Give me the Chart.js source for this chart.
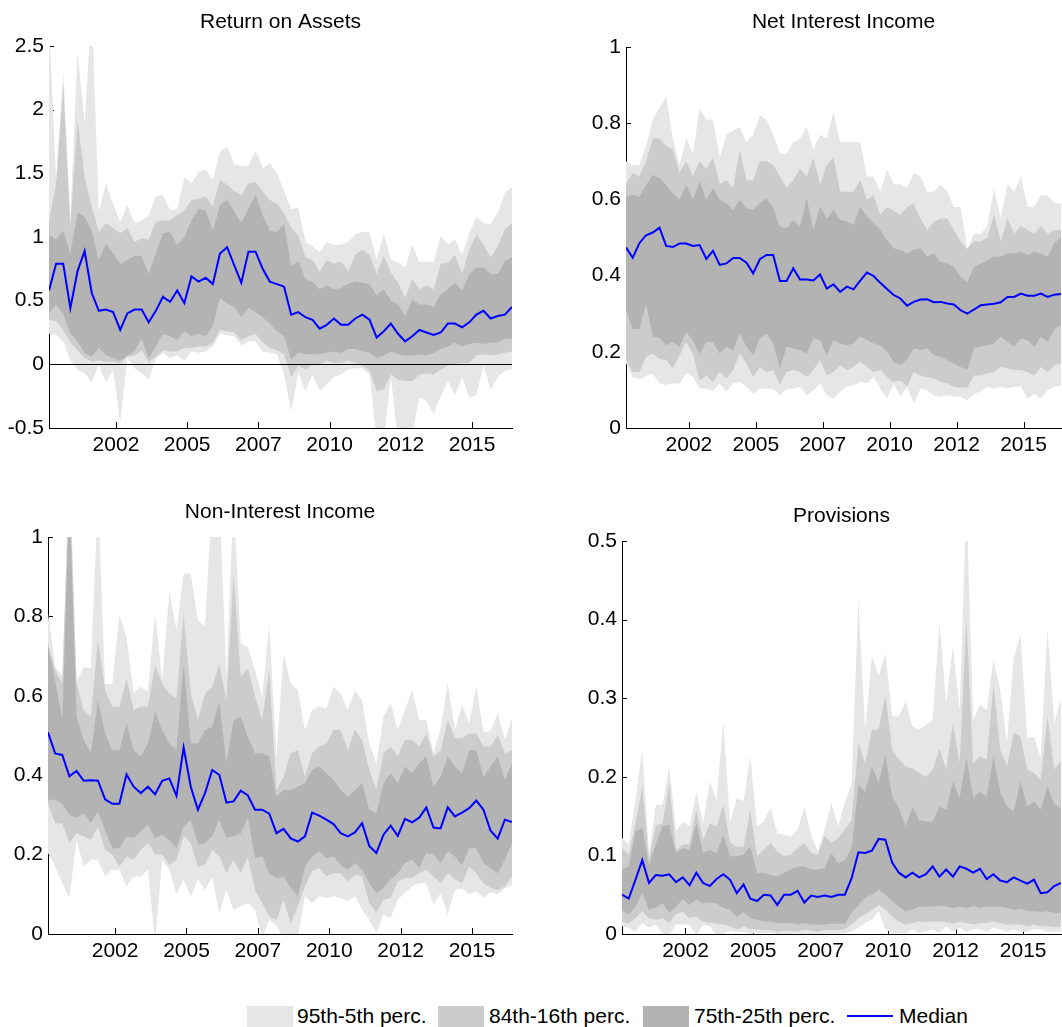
<!DOCTYPE html>
<html>
<head>
<meta charset="utf-8">
<script src="https://cdn.jsdelivr.net/npm/chart.js@4.4.1/dist/chart.umd.min.js"></script>
<style>
  html, body { margin: 0; padding: 0; background: #fff; overflow: hidden; width: 1062px; height: 1027px; }
  canvas { position: absolute; }
  .legend { position: absolute; top: 1004px; left: 0; font: 21px "Liberation Sans", Arial, sans-serif; color: #000; }
  .swatch { position: absolute; top: 2px; width: 46px; height: 24px; }
  .label { position: absolute; top: 0; line-height: 24px; white-space: nowrap; }
  .medline { position: absolute; top: 11px; width: 46px; height: 2px; background: #0000ff; }
</style>
</head>
<body>
<canvas id="roa" width="540" height="490" style="left:0;top:0"></canvas>
<canvas id="nii" width="540" height="490" style="left:560px;top:0"></canvas>
<canvas id="nonii" width="540" height="490" style="left:0;top:490px"></canvas>
<canvas id="prov" width="540" height="490" style="left:560px;top:490px"></canvas>

<div class="legend">
  <div class="swatch" style="left:247px;background:#e6e6e6"></div>
  <div class="label" style="left:297px">95th-5th perc.</div>
  <div class="swatch" style="left:438px;background:#cccccc"></div>
  <div class="label" style="left:489px">84th-16th perc.</div>
  <div class="swatch" style="left:643px;background:#b3b3b3"></div>
  <div class="label" style="left:694px">75th-25th perc.</div>
  <div class="medline" style="left:847px"></div>
  <div class="label" style="left:899px">Median</div>
</div>

<script>
// quarterly observations, 2000Q1 .. 2016Q2 (66 quarters); ticks every 10 quarters
const tickPos = [9.4, 19.4, 29.4, 39.4, 49.4, 59.4];
const tickLabels = ['2002', '2005', '2007', '2010', '2012', '2015'];

// Return on Assets
const roaMedian = [0.58,0.79,0.79,0.44,0.73,0.89,0.56,0.42,0.43,0.41, 0.27,0.40,0.43,0.43,0.33,0.42,0.53,0.49,0.58,0.48,
  0.69,0.65,0.68,0.63,0.87,0.92,0.78,0.64,0.885,0.885, 0.75,0.65,0.63,0.61,0.39,0.41,0.37,0.35,0.28,0.31,
  0.36,0.31,0.31,0.36,0.39,0.35,0.21,0.26,0.32,0.24, 0.18,0.22,0.27,0.25,0.23,0.25,0.32,0.32,0.29,0.33, 0.39,0.42,0.36,0.38,0.39,0.45];
const roaP95 = [2.7,1.45,2.3,1.15,2.45,1.9,2.8,1.2,1.42,1.26, 1.12,1.25,1.11,1.13,1.17,1.32,1.33,1.21,1.22,1.47,
  1.42,1.51,1.53,1.45,1.67,1.71,1.57,1.56,1.56,1.68, 1.54,1.58,1.5,1.36,1.22,1.23,0.96,0.93,0.88,0.96,
  0.94,0.94,0.96,1.02,1.04,1.04,0.82,1.03,0.82,0.80, 0.76,0.94,0.80,0.81,0.80,1.01,0.94,0.98,0.86,1.03, 1.16,1.11,1.10,1.19,1.35,1.39];
const roaP84 = [1.12,1.42,2.19,1.08,1.92,1.47,1.24,1.04,1.11,1.07, 1.03,1.07,0.96,0.99,0.98,1.12,1.13,1.13,1.17,1.21,
  1.29,1.30,1.32,1.24,1.45,1.41,1.36,1.33,1.42,1.43, 1.36,1.29,1.26,1.19,1.07,1.01,0.84,0.82,0.73,0.82,
  0.79,0.81,0.73,0.86,0.90,0.86,0.71,0.85,0.72,0.64, 0.52,0.67,0.59,0.62,0.59,0.79,0.80,0.86,0.71,0.90, 1.02,0.94,0.84,0.93,1.06,1.11];
const roaP75 = [1.02,0.98,1.05,0.87,1.19,1.16,1.05,0.82,0.95,0.87, 0.79,0.82,0.85,0.85,0.71,0.87,1.03,1.04,0.94,1.00,
  1.13,1.22,1.21,1.05,1.25,1.29,1.20,1.11,1.22,1.33, 1.17,1.05,1.04,1.10,0.77,0.81,0.67,0.65,0.59,0.62,
  0.59,0.60,0.63,0.65,0.64,0.63,0.54,0.59,0.50,0.47, 0.38,0.51,0.47,0.47,0.45,0.55,0.59,0.64,0.58,0.71, 0.76,0.76,0.71,0.71,0.81,0.84];
const roaP25 = [0.40,0.47,0.40,0.24,0.18,0.09,0.06,0.13,0.07,0.05, 0.03,0.07,0.10,0.20,0.05,0.14,0.24,0.22,0.19,0.26,
  0.22,0.24,0.22,0.30,0.52,0.48,0.45,0.37,0.44,0.41, 0.37,0.32,0.26,0.22,0.04,0.09,0.08,0.08,0.08,0.09,
  0.10,0.09,0.12,0.12,0.10,0.09,0.05,0.07,0.10,0.08, 0.07,0.07,0.08,0.07,0.09,0.12,0.14,0.17,0.14,0.16, 0.17,0.16,0.17,0.17,0.20,0.20];
const roaP16 = [0.35,0.34,0.27,0.17,0.11,0.05,0.02,0.03,0.02,0.02, 0.01,0.06,0.07,0.11,0.02,0.06,0.11,0.10,0.10,0.13,
  0.13,0.14,0.14,0.17,0.27,0.26,0.25,0.19,0.22,0.24, 0.17,0.13,0.11,0.08,-0.10,-0.01,-0.04,0.00,-0.01,0.03,
  0.01,0.01,0.03,0.01,-0.01,-0.05,-0.21,-0.20,-0.08,-0.12, -0.13,-0.13,-0.08,-0.07,-0.08,-0.04,-0.01,0.00,0.01,0.01, 0.07,0.08,0.07,0.08,0.09,0.10];
const roaP5 = [0.24,0.23,0.18,0.03,-0.04,-0.07,-0.14,-0.01,-0.14,-0.04, -0.46,0.05,-0.03,-0.07,-0.12,0.04,0.09,0.05,0.07,0.03,
  0.10,0.09,0.10,0.14,0.24,0.23,0.22,0.15,0.18,0.18, 0.10,0.09,0.08,-0.08,-0.37,-0.07,-0.21,-0.08,-0.21,-0.16,
  -0.10,-0.08,-0.04,-0.03,-0.03,-0.08,-0.6,-0.6,-0.10,-0.6, -0.6,-0.55,-0.26,-0.29,-0.39,-0.25,-0.13,-0.24,-0.10,-0.26, -0.24,-0.01,-0.20,-0.10,-0.05,-0.04];

// Net Interest Income
const niiMedian = [0.474,0.447,0.485,0.506,0.513,0.526,0.478,0.475,0.484,0.484, 0.478,0.48,0.444,0.465,0.428,0.432,0.446,0.446,0.434,0.406,
  0.443,0.454,0.454,0.386,0.386,0.419,0.39,0.39,0.387,0.403, 0.366,0.377,0.357,0.371,0.364,0.387,0.408,0.399,0.381,0.365,
  0.349,0.34,0.321,0.331,0.337,0.338,0.330,0.331,0.327,0.324, 0.309,0.300,0.311,0.322,0.324,0.326,0.330,0.344,0.344,0.353, 0.347,0.347,0.353,0.344,0.350,0.352];
const niiP95 = [0.70,0.69,0.69,0.74,0.81,0.84,0.87,0.76,0.69,0.76, 0.72,0.84,0.81,0.81,0.71,0.77,0.78,0.79,0.75,0.77,
  0.82,0.81,0.77,0.72,0.72,0.75,0.76,0.79,0.73,0.77, 0.76,0.83,0.75,0.75,0.75,0.75,0.66,0.66,0.62,0.68,
  0.64,0.64,0.63,0.67,0.66,0.62,0.62,0.64,0.62,0.58, 0.58,0.47,0.51,0.51,0.53,0.63,0.55,0.64,0.62,0.66, 0.58,0.58,0.61,0.61,0.59,0.59];
const niiP84 = [0.64,0.67,0.66,0.70,0.76,0.76,0.74,0.73,0.67,0.70, 0.66,0.70,0.68,0.71,0.64,0.65,0.63,0.73,0.65,0.65,
  0.70,0.70,0.69,0.66,0.63,0.65,0.68,0.66,0.71,0.64, 0.69,0.71,0.62,0.62,0.62,0.65,0.60,0.61,0.56,0.58,
  0.57,0.56,0.58,0.59,0.55,0.52,0.54,0.55,0.55,0.52, 0.49,0.47,0.49,0.49,0.50,0.56,0.49,0.55,0.51,0.53, 0.52,0.51,0.53,0.51,0.52,0.52];
const niiP75 = [0.607,0.612,0.607,0.638,0.664,0.656,0.638,0.616,0.599,0.638, 0.599,0.647,0.599,0.629,0.599,0.59,0.572,0.599,0.577,0.572,
  0.59,0.603,0.577,0.528,0.524,0.546,0.528,0.603,0.52,0.581, 0.55,0.572,0.546,0.542,0.533,0.581,0.555,0.537,0.52,0.493,
  0.472,0.467,0.458,0.467,0.472,0.45,0.458,0.436,0.432,0.423, 0.397,0.384,0.423,0.432,0.441,0.45,0.45,0.458,0.458,0.463, 0.454,0.463,0.458,0.45,0.485,0.50];
const niiP25 = [0.31,0.26,0.26,0.327,0.24,0.236,0.217,0.226,0.213,0.252, 0.23,0.195,0.226,0.226,0.195,0.213,0.204,0.248,0.213,0.191,
  0.235,0.248,0.222,0.156,0.213,0.209,0.204,0.195,0.235,0.231, 0.191,0.231,0.222,0.217,0.222,0.24,0.231,0.222,0.217,0.20,
  0.174,0.165,0.182,0.209,0.204,0.209,0.191,0.187,0.178,0.169, 0.160,0.152,0.209,0.213,0.217,0.222,0.24,0.226,0.213,0.235, 0.231,0.213,0.24,0.226,0.26,0.27];
const niiP16 = [0.18,0.147,0.147,0.187,0.195,0.182,0.178,0.156,0.191,0.226, 0.195,0.125,0.138,0.121,0.147,0.13,0.152,0.195,0.169,0.134,
  0.16,0.147,0.152,0.112,0.147,0.152,0.147,0.134,0.152,0.178, 0.138,0.147,0.165,0.152,0.160,0.174,0.160,0.147,0.152,0.134,
  0.121,0.125,0.108,0.147,0.138,0.134,0.130,0.121,0.117,0.108, 0.106,0.106,0.138,0.138,0.143,0.147,0.160,0.156,0.152,0.152, 0.147,0.138,0.160,0.147,0.165,0.17];
const niiP5 = [0.17,0.134,0.128,0.136,0.143,0.117,0.113,0.117,0.117,0.143, 0.134,0.103,0.103,0.097,0.117,0.095,0.117,0.121,0.108,0.09,
  0.103,0.103,0.103,0.086,0.103,0.103,0.108,0.086,0.099,0.117, 0.086,0.077,0.095,0.108,0.112,0.121,0.117,0.134,0.103,0.077,
  0.117,0.082,0.108,0.064,0.103,0.099,0.086,0.082,0.086,0.082, 0.082,0.073,0.090,0.095,0.108,0.103,0.108,0.103,0.108,0.108, 0.077,0.090,0.077,0.099,0.108,0.11];

// Non-Interest Income
const noniiMedian = [0.508,0.455,0.451,0.397,0.411,0.386,0.387,0.386,0.339,0.328, 0.328,0.402,0.371,0.355,0.371,0.352,0.386,0.392,0.348,0.47,
  0.371,0.313,0.355,0.413,0.401,0.331,0.334,0.361,0.349,0.313, 0.313,0.303,0.254,0.265,0.241,0.233,0.246,0.306,0.298,0.288,
  0.277,0.254,0.246,0.256,0.279,0.222,0.204,0.25,0.273,0.247, 0.29,0.281,0.293,0.319,0.268,0.266,0.319,0.296,0.306,0.317, 0.336,0.313,0.26,0.24,0.288,0.282];
const noniiP95 = [0.807,0.673,0.65,1.2,0.635,0.673,0.67,1.1,0.63,0.63, 0.803,0.748,0.606,0.623,0.61,0.807,0.64,0.862,0.765,0.908,
  0.908,0.79,0.774,1.1,1.1,0.648,1.1,0.732,0.723,0.665, 0.598,0.778,0.447,0.707,0.631,0.614,0.514,0.564,0.573,0.568,
  0.623,0.606,0.564,0.614,0.589,0.48,0.43,0.547,0.581,0.514, 0.564,0.614,0.539,0.539,0.455,0.518,0.631,0.514,0.577,0.531, 0.623,0.51,0.51,0.556,0.489,0.543];
const noniiP84 = [0.732,0.665,0.631,1.15,0.631,0.564,0.547,0.74,0.614,0.573, 0.573,0.644,0.564,0.573,0.573,0.677,0.631,0.606,0.594,0.807,
  0.606,0.539,0.606,0.623,0.681,0.589,0.908,0.648,0.669,0.598, 0.539,0.665,0.363,0.396,0.455,0.463,0.396,0.455,0.472,0.48,
  0.514,0.514,0.463,0.514,0.489,0.413,0.363,0.455,0.472,0.447, 0.489,0.489,0.472,0.505,0.447,0.463,0.539,0.493,0.493,0.505, 0.505,0.472,0.472,0.501,0.455,0.463];
const noniiP75 = [0.728,0.64,0.539,1.1,0.547,0.489,0.455,0.589,0.505,0.463, 0.463,0.531,0.463,0.447,0.48,0.56,0.514,0.48,0.463,0.681,
  0.48,0.48,0.514,0.522,0.585,0.43,0.539,0.547,0.497,0.455, 0.455,0.447,0.346,0.363,0.363,0.371,0.38,0.413,0.422,0.405,
  0.388,0.363,0.346,0.363,0.38,0.313,0.304,0.38,0.405,0.38, 0.422,0.405,0.43,0.447,0.371,0.396,0.447,0.422,0.405,0.463, 0.463,0.396,0.422,0.447,0.388,0.43];
const noniiP25 = [0.338,0.338,0.329,0.30,0.292,0.304,0.279,0.308,0.262,0.216, 0.216,0.246,0.242,0.258,0.275,0.242,0.25,0.237,0.216,0.271,
  0.288,0.225,0.229,0.246,0.288,0.242,0.246,0.254,0.292,0.191, 0.195,0.153,0.141,0.145,0.116,0.095,0.17,0.195,0.208,0.191,
  0.195,0.174,0.162,0.179,0.162,0.128,0.103,0.116,0.137,0.153, 0.179,0.187,0.166,0.204,0.20,0.179,0.208,0.195,0.174,0.216, 0.216,0.179,0.166,0.153,0.187,0.229];
const noniiP16 = [0.329,0.279,0.279,0.229,0.254,0.246,0.237,0.271,0.212,0.20, 0.17,0.195,0.187,0.212,0.229,0.20,0.20,0.174,0.187,0.246,
  0.229,0.17,0.174,0.212,0.195,0.153,0.187,0.153,0.195,0.111, 0.078,0.044,0.036,0.086,0.028,0.07,0.12,0.158,0.166,0.145,
  0.153,0.153,0.132,0.149,0.145,0.078,0.053,0.086,0.091,0.132, 0.141,0.141,0.153,0.162,0.145,0.128,0.153,0.137,0.128,0.17, 0.153,0.128,0.116,0.111,0.12,0.145];
const noniiP5 = [0.204,0.17,0.128,0.091,0.237,0.17,0.187,0.187,0.145,0.162, 0.162,0.12,0.145,0.145,0.162,-0.02,0.187,0.162,0.099,0.137,
  0.095,0.137,0.111,0.145,0.053,0.111,0.061,0.07,0.078,0.061, -0.01,0.036,0.02,-0.01,-0.01,-0.01,0.095,0.078,0.095,0.091,
  0.095,0.091,0.082,0.095,0.061,0.036,0.003,0.049,0.04,0.087, 0.103,0.12,0.128,0.128,0.074,0.103,0.049,0.111,0.115,0.10, 0.107,0.091,0.105,0.10,0.115,0.124];

// Provisions
const provMedian = [0.05,0.045,0.069,0.094,0.065,0.075,0.074,0.076,0.066,0.072, 0.062,0.078,0.065,0.061,0.07,0.076,0.069,0.052,0.063,0.045,
  0.042,0.05,0.049,0.037,0.05,0.05,0.055,0.04,0.049,0.047, 0.049,0.047,0.05,0.05,0.071,0.104,0.103,0.106,0.121,0.12,
  0.091,0.078,0.072,0.078,0.072,0.076,0.086,0.073,0.082,0.073, 0.086,0.083,0.078,0.083,0.07,0.076,0.068,0.066,0.072,0.068, 0.064,0.069,0.052,0.053,0.061,0.065];
const provP95 = [0.122,0.114,0.171,0.234,0.103,0.164,0.164,0.213,0.131,0.143, 0.137,0.181,0.141,0.194,0.171,0.27,0.141,0.173,0.169,0.226,
  0.137,0.143,0.16,0.128,0.126,0.124,0.133,0.162,0.126,0.105, 0.133,0.167,0.137,0.167,0.192,0.427,0.26,0.353,0.328,0.357,
  0.277,0.277,0.296,0.264,0.26,0.266,0.272,0.397,0.294,0.366, 0.285,0.55,0.272,0.292,0.285,0.349,0.311,0.243,0.351,0.381, 0.249,0.251,0.224,0.389,0.268,0.30];
const provP84 = [0.109,0.101,0.141,0.188,0.094,0.137,0.141,0.192,0.107,0.114, 0.114,0.158,0.12,0.141,0.137,0.164,0.116,0.111,0.111,0.158,
  0.099,0.107,0.116,0.105,0.099,0.101,0.109,0.116,0.103,0.101, 0.125,0.116,0.122,0.133,0.145,0.243,0.217,0.26,0.26,0.304,
  0.234,0.222,0.213,0.211,0.205,0.20,0.209,0.236,0.209,0.268, 0.217,0.402,0.217,0.226,0.222,0.319,0.234,0.213,0.256,0.251, 0.209,0.205,0.196,0.277,0.209,0.22];
const provP75 = [0.082,0.086,0.131,0.135,0.088,0.114,0.137,0.139,0.103,0.109, 0.107,0.141,0.103,0.107,0.103,0.126,0.099,0.099,0.101,0.111,
  0.078,0.078,0.075,0.073,0.078,0.082,0.086,0.086,0.082,0.082, 0.084,0.103,0.09,0.094,0.109,0.19,0.181,0.213,0.192,0.228,
  0.175,0.16,0.137,0.162,0.145,0.143,0.143,0.162,0.158,0.194, 0.173,0.224,0.173,0.181,0.175,0.226,0.181,0.162,0.156,0.194, 0.162,0.169,0.158,0.188,0.165,0.16];
const provP25 = [0.03,0.025,0.035,0.052,0.031,0.033,0.039,0.027,0.035,0.044, 0.037,0.044,0.039,0.04,0.039,0.033,0.031,0.022,0.028,0.02,
  0.018,0.016,0.016,0.014,0.014,0.014,0.012,0.014,0.012,0.012, 0.012,0.013,0.013,0.013,0.027,0.037,0.046,0.05,0.056,0.05,
  0.042,0.035,0.029,0.031,0.035,0.035,0.035,0.036,0.035,0.033, 0.035,0.033,0.036,0.033,0.035,0.035,0.035,0.033,0.031,0.032, 0.029,0.029,0.028,0.029,0.027,0.027];
const provP16 = [0.016,0.014,0.02,0.029,0.02,0.018,0.02,0.014,0.025,0.028, 0.02,0.022,0.016,0.014,0.013,0.012,0.01,0.006,0.01,0.006,
  0.006,0.005,0.005,0.003,0.004,0.004,0.003,0.005,0.004,0.003, 0.005,0.005,0.005,0.006,0.012,0.02,0.025,0.03,0.037,0.031,
  0.022,0.016,0.012,0.014,0.016,0.015,0.016,0.016,0.015,0.013, 0.016,0.014,0.012,0.014,0.014,0.016,0.014,0.012,0.012,0.012, 0.01,0.012,0.01,0.01,0.009,0.009];
const provP5 = [0.01,0.008,0.003,0.014,0.008,0.012,0.001,-0.002,0.012,0.012, 0.012,-0.002,0.012,0.01,-0.002,0.0,0.004,0.003,0.003,0.0,
  0.002,0.001,0.001,0.0,0.0,0.0,0.001,-0.002,0.0,0.0, 0.0,0.0,0.0,0.001,0.003,0.008,0.014,0.018,0.029,0.006,
  0.001,0.001,0.001,0.006,0.001,0.003,0.006,0.001,0.01,0.003, 0.008,0.003,0.006,0.006,0.003,0.008,0.006,0.003,0.006,0.003, 0.003,0.006,0.006,0.003,0.003,0.003];

Chart.defaults.font.family = '"Liberation Sans", Arial, Helvetica, sans-serif';
Chart.defaults.font.size = 21;
Chart.defaults.color = '#000';

// little inward tick marks (under the bands, like the original) and an optional zero line
const axisMarks = {
    id: 'axisMarks',
    beforeDatasetsDraw(chart) {
        const { ctx, chartArea: a, scales: { x, y } } = chart;
        ctx.save();
        ctx.strokeStyle = '#000';
        ctx.lineWidth = 1;
        ctx.beginPath();
        x.ticks.forEach((t) => {
            const px = Math.round(x.getPixelForValue(t.value)) + 0.5;
            ctx.moveTo(px, a.bottom);
            ctx.lineTo(px, a.bottom - 6);
        });
        y.ticks.forEach((t) => {
            const py = Math.round(y.getPixelForValue(t.value)) + 0.5;
            ctx.moveTo(a.left, py);
            ctx.lineTo(a.left + 5, py);
        });
        ctx.stroke();
        ctx.restore();
    },
    afterDatasetsDraw(chart, args, opts) {
        if (!opts.zeroLine) {
            return;
        }
        const { ctx, chartArea: a, scales: { y } } = chart;
        const py = Math.round(y.getPixelForValue(0)) + 0.5;
        ctx.save();
        ctx.strokeStyle = '#000';
        ctx.lineWidth = 1;
        ctx.beginPath();
        ctx.moveTo(a.left, py);
        ctx.lineTo(a.right, py);
        ctx.stroke();
        ctx.restore();
    },
};

function points(values) {
    return values.map((v, i) => ({ x: i, y: v }));
}

function band(values, color, order, fillToNext) {
    return {
        data: points(values),
        borderWidth: 0,
        backgroundColor: color,
        fill: fillToNext ? '+1' : false,
        order,
    };
}

function makePanel(id, p) {
    new Chart(document.getElementById(id), {
        type: 'line',
        data: {
            datasets: [
                { label: 'Median', data: points(p.median), borderColor: '#0000ff', borderWidth: 2, fill: false, order: 0 },
                band(p.p75, '#b3b3b3', 1, true),
                band(p.p25, '#b3b3b3', 1, false),
                band(p.p84, '#cccccc', 2, true),
                band(p.p16, '#cccccc', 2, false),
                band(p.p95, '#e6e6e6', 3, true),
                band(p.p5, '#e6e6e6', 3, false),
            ],
        },
        options: {
            responsive: false,
            animation: false,
            events: [],
            layout: { padding: { left: 0, right: p.padRight, top: 0, bottom: 0 } },
            elements: { point: { radius: 0 }, line: { tension: 0 } },
            plugins: {
                legend: { display: false },
                tooltip: { enabled: false },
                title: {
                    display: true,
                    text: p.title,
                    fullSize: false,
                    font: { size: 21, weight: 'normal' },
                    padding: { top: p.titleTop, bottom: p.titleBottom },
                },
                axisMarks: { zeroLine: !!p.zeroLine },
            },
            scales: {
                x: {
                    type: 'linear',
                    min: 0,
                    max: 65,
                    afterBuildTicks: (s) => { s.ticks = tickPos.map((v) => ({ value: v })); },
                    afterFit: (s) => { s.height = p.xHeight; },
                    ticks: { callback: (v, i) => tickLabels[i], autoSkip: false, maxRotation: 0, padding: 5 },
                    grid: { display: false, drawTicks: false },
                    border: { display: true, color: '#000', width: 1 },
                },
                y: {
                    min: p.yMin,
                    max: p.yMax,
                    afterFit: (s) => { s.width = p.yWidth; },
                    ticks: {
                        stepSize: p.yStep,
                        padding: 5,
                        callback: (v) => String(Math.round(v * 100) / 100),
                    },
                    grid: { display: false, drawTicks: false },
                    border: { display: true, color: '#000', width: 1 },
                },
            },
        },
        plugins: [axisMarks],
    });
}

makePanel('roa', {
    title: 'Return on Assets', median: roaMedian, p95: roaP95, p84: roaP84, p75: roaP75, p25: roaP25, p16: roaP16, p5: roaP5,
    yMin: -0.5, yMax: 2.5, yStep: 0.5, yWidth: 49, xHeight: 62, padRight: 28, titleTop: 10, titleBottom: 10.8, zeroLine: true,
});
makePanel('nii', {
    title: 'Net Interest Income', median: niiMedian, p95: niiP95, p84: niiP84, p75: niiP75, p25: niiP25, p16: niiP16, p5: niiP5,
    yMin: 0, yMax: 1, yStep: 0.2, yWidth: 66, xHeight: 62, padRight: 39, titleTop: 10, titleBottom: 11.8,
});
makePanel('nonii', {
    title: 'Non-Interest Income', median: noniiMedian, p95: noniiP95, p84: noniiP84, p75: noniiP75, p25: noniiP25, p16: noniiP16, p5: noniiP5,
    yMin: 0, yMax: 1, yStep: 0.2, yWidth: 48, xHeight: 46, padRight: 28, titleTop: 10, titleBottom: 11.8,
});
makePanel('prov', {
    title: 'Provisions', median: provMedian, p95: provP95, p84: provP84, p75: provP75, p25: provP25, p16: provP16, p5: provP5,
    yMin: 0, yMax: 0.5, yStep: 0.1, yWidth: 62, xHeight: 46, padRight: 39, titleTop: 14, titleBottom: 11.8,
});
</script>
</body>
</html>
